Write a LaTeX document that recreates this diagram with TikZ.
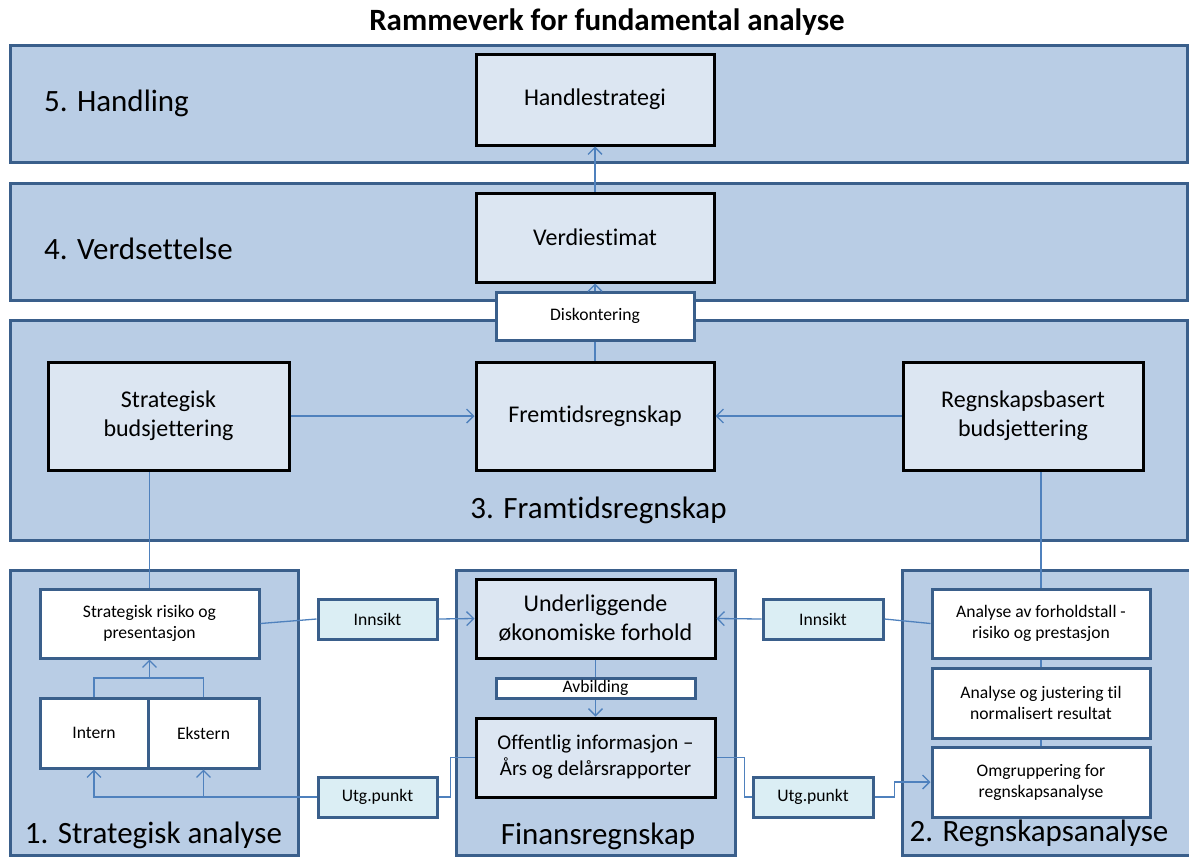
\documentclass[tikz,border=0pt]{standalone}
\usepackage{fontspec}
\setmainfont{Carlito}[Ligatures={NoCommon}]
\usetikzlibrary{arrows.meta}

\definecolor{bandfill}{HTML}{B9CDE5}
\definecolor{bandline}{HTML}{3A5F8B}
\definecolor{boxfill}{HTML}{DCE6F2}
\definecolor{tagfill}{HTML}{DBEEF4}
\definecolor{conn}{HTML}{4F81BD}

\tikzset{
  band/.style={draw=bandline, fill=bandfill, line width=3pt, inner sep=0pt},
  core/.style={draw=black, fill=boxfill, line width=3pt, align=center, inner sep=2pt},
  plain/.style={draw=bandline, fill=white, line width=3pt, align=center, inner sep=2pt},
  tag/.style={draw=bandline, fill=tagfill, line width=3pt, align=center, inner sep=2pt},
  link/.style={draw=conn, line width=1.3pt},
  arr/.style={link, -{Straight Barb[length=7pt,width=14pt,line width=1.3pt]}},
  bandlabel/.style={inner sep=0pt, anchor=base, font=\fontsize{31}{37}\selectfont},
  bigtext/.style={font=\fontsize{24}{29}\selectfont},
  midtext/.style={font=\fontsize{21}{26}\selectfont},
  smalltext/.style={font=\fontsize{17.6}{21}\selectfont},
}

\begin{document}
\begin{tikzpicture}[x=1pt, y=-1pt]
\useasboundingbox (0,0) rectangle (1189,857);
\clip (0,0) rectangle (1189,857);

% title
\node[inner sep=0pt, anchor=base, font=\bfseries\fontsize{31}{37}\selectfont] (title) at (607,30) {Rammeverk for fundamental analyse};

% horizontal bands
\node[band, minimum width=1177pt, minimum height=117pt] (band5) at (598.5,103.5) {};
\node[band, minimum width=1177pt, minimum height=117pt] (band4) at (598.5,241.5) {};
\node[band, minimum width=1177pt, minimum height=220pt] (band3) at (598.5,430) {};
% lower columns
\node[band, minimum width=288pt, minimum height=285pt] (band1) at (154,712.5) {};
\node[band, minimum width=279pt, minimum height=285pt] (bandF) at (595.5,712.5) {};
\node[band, minimum width=298pt, minimum height=285pt] (band2) at (1051,712.5) {};

% band labels
\node[bandlabel, anchor=base west] (lab5) at (44,111) {5. Handling};
\node[bandlabel, anchor=base west] (lab4) at (44,259) {4. Verdsettelse};
\node[bandlabel] (lab3) at (598.5,518) {3. Framtidsregnskap};
\node[bandlabel] (lab1) at (153.5,843) {1. Strategisk analyse};
\node[bandlabel] (labF) at (598,844) {Finansregnskap};
\node[bandlabel] (lab2) at (1039,841) {2. Regnskapsanalyse};

% top chain
\node[core, bigtext, minimum width=238pt, minimum height=91pt] (hs) at (595,99.5) {Handlestrategi};
\node[core, bigtext, minimum width=238pt, minimum height=89pt] (ve) at (595,237.5) {Verdiestimat};
\node[plain, smalltext, minimum width=198pt, minimum height=48pt] (disk) at (595,316) {Diskontering};

% forecasting row
\node[core, bigtext, minimum width=241pt, minimum height=108pt] (sb) at (168.5,416) {Strategisk\\budsjettering};
\node[core, bigtext, minimum width=238pt, minimum height=108pt] (fr) at (595,416) {Fremtidsregnskap};
\node[core, bigtext, minimum width=240pt, minimum height=108pt] (rb) at (1023,416) {Regnskapsbasert\\budsjettering};

% strategic analysis column
\node[plain, smalltext, minimum width=219pt, minimum height=69pt] (risk) at (149.5,623.5) {Strategisk risiko og\\presentasjon};
\node[plain, smalltext, minimum width=108pt, minimum height=70pt] (intern) at (94,733) {Intern};
\node[plain, smalltext, minimum width=111pt, minimum height=70pt] (ekstern) at (203.5,733) {Ekstern};

% tags between columns
\node[tag, smalltext, minimum width=119pt, minimum height=40pt] (innL) at (377.5,619) {Innsikt};
\node[tag, smalltext, minimum width=119pt, minimum height=40pt] (utgL) at (377.5,797) {Utg.punkt};
\node[tag, smalltext, minimum width=120pt, minimum height=40pt] (innR) at (823,619) {Innsikt};
\node[tag, smalltext, minimum width=120pt, minimum height=40pt] (utgR) at (813,797) {Utg.punkt};

% financial statements column
\node[core, bigtext, minimum width=239pt, minimum height=79pt] (und) at (595.5,618.5) {Underliggende\\økonomiske forhold};
\node[plain, smalltext, minimum width=199pt, minimum height=20pt, inner sep=0pt] (avb) at (595.5,688) {Avbilding};
\node[core, midtext, minimum width=239pt, minimum height=79pt] (off) at (595.5,757.5) {Offentlig informasjon –\\Års og delårsrapporter};

% accounting analysis column
\node[plain, smalltext, minimum width=218pt, minimum height=69pt] (ana1) at (1041,623.5) {Analyse av forholdstall -\\risiko og prestasjon};
\node[plain, smalltext, minimum width=218pt, minimum height=70pt] (ana2) at (1041,703) {Analyse og justering til\\normalisert resultat};
\node[plain, smalltext, minimum width=218pt, minimum height=70pt] (ana3) at (1041,782) {Omgruppering for\\regnskapsanalyse};

% connectors: valuation chain
\draw[arr] (ve.north) -- (hs.south);
\draw[link] (fr.north) -- (disk.south);
\draw[arr] (disk.north) -- (ve.south);
\draw[arr] (sb.east) -- (fr.west);
\draw[arr] (rb.west) -- (fr.east);
\draw[link] (risk.north) -- (risk.north |- sb.south);
\draw[link] (ana1.north) -- (ana1.north |- rb.south);

% connectors: strategic analysis
\coordinate (join) at (149.5,678);
\draw[link] (intern.north) |- (join) -| (ekstern.north);
\draw[arr] (join) -- (risk.south);
\draw[link] (risk.east) -- (innL.west);
\draw[arr] (innL.east) -- (und.west);
\draw[arr] (utgL.west) -| (intern.south);
\draw[arr] (ekstern.south |- utgL.west) -- (ekstern.south);
\draw[link] (utgL.east) -- ++(12,0) |- (off.west);

% connectors: financial statements
\draw[link] (und.south) -- (avb.north);
\draw[arr] (avb.south) -- (off.north);
\draw[link] (off.east) -- ++(28,0) |- (utgR.west);

% connectors: accounting analysis
\draw[link] (ana1.west) -- (innR.east);
\draw[arr] (innR.west) -- (und.east);
\draw[arr] (utgR.east) -- ++(20,0) |- (ana3.west);
\draw[link] (ana1.south) -- (ana2.north);
\draw[link] (ana2.south) -- (ana3.north);
\end{tikzpicture}
\end{document}
